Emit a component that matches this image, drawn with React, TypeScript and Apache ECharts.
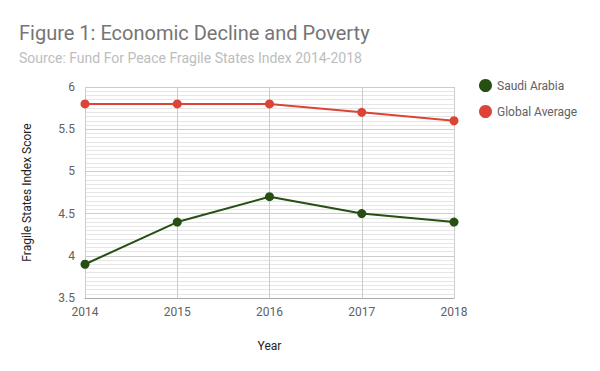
import React, { useEffect, useRef } from "react";
import * as echarts from "echarts";

const years = ["2014", "2015", "2016", "2017", "2018"];
const saudiArabia = [3.9, 4.4, 4.7, 4.5, 4.4];
const globalAverage = [5.8, 5.8, 5.8, 5.7, 5.6];

export default function App() {
  const ref = useRef<HTMLDivElement>(null);
  useEffect(() => {
    if (!ref.current) return;
    const chart = echarts.init(ref.current, null, { renderer: "svg" });
    const font = "Roboto, 'Noto Sans', sans-serif";
    chart.setOption({
      animation: false,
      backgroundColor: "#ffffff",
      textStyle: { fontFamily: font },
      title: {
        text: "Figure 1: Economic Decline and Poverty",
        subtext: "Source: Fund For Peace Fragile States Index 2014-2018",
        left: 14,
        top: 18,
        itemGap: 8,
        textStyle: { fontFamily: font, fontSize: 20, fontWeight: "normal", color: "#757575" },
        subtextStyle: { fontFamily: font, fontSize: 14, color: "#bdbdbd" },
      },
      legend: {
        orient: "vertical",
        left: 474,
        top: 74,
        itemWidth: 13,
        itemHeight: 13,
        itemGap: 13,
        icon: "circle",
        textStyle: { fontFamily: font, fontSize: 12, color: "#616161" },
        data: ["Saudi Arabia", "Global Average"],
      },
      grid: { left: 85, right: 146, top: 87, bottom: 73, containLabel: false },
      xAxis: {
        type: "category",
        data: years,
        boundaryGap: false,
        name: "Year",
        nameLocation: "middle",
        nameGap: 42,
        nameTextStyle: { fontSize: 12, color: "#222222" },
        axisLine: { show: true, lineStyle: { color: "#aaaaaa" } },
        axisTick: { show: false },
        axisLabel: { color: "#616161", fontSize: 12, margin: 8 },
        splitLine: { show: true, lineStyle: { color: "#cccccc" } },
      },
      yAxis: {
        type: "value",
        min: 3.5,
        max: 6,
        interval: 0.5,
        name: "Fragile States Index Score",
        nameLocation: "middle",
        nameGap: 52,
        nameTextStyle: { fontSize: 12, color: "#222222" },
        axisLine: { show: false },
        axisTick: { show: false },
        axisLabel: { color: "#616161", fontSize: 12, margin: 10 },
        splitLine: { show: true, lineStyle: { color: "#cccccc" } },
        minorTick: { show: false, splitNumber: 10 },
        minorSplitLine: { show: true, lineStyle: { color: "#e6e6e6" } },
      },
      series: [
        {
          name: "Saudi Arabia",
          type: "line",
          data: saudiArabia,
          symbol: "circle",
          symbolSize: 9,
          color: "#274e13",
          lineStyle: { width: 2, color: "#274e13" },
          itemStyle: { color: "#274e13" },
          z: 3,
        },
        {
          name: "Global Average",
          type: "line",
          data: globalAverage,
          symbol: "circle",
          symbolSize: 9,
          color: "#db4437",
          lineStyle: { width: 2, color: "#db4437" },
          itemStyle: { color: "#db4437" },
          z: 3,
        },
      ],
    });
    return () => chart.dispose();
  }, []);
  return <div ref={ref} style={{ width: 600, height: 371, position: "absolute", left: 0, top: 0 }} />;
}
